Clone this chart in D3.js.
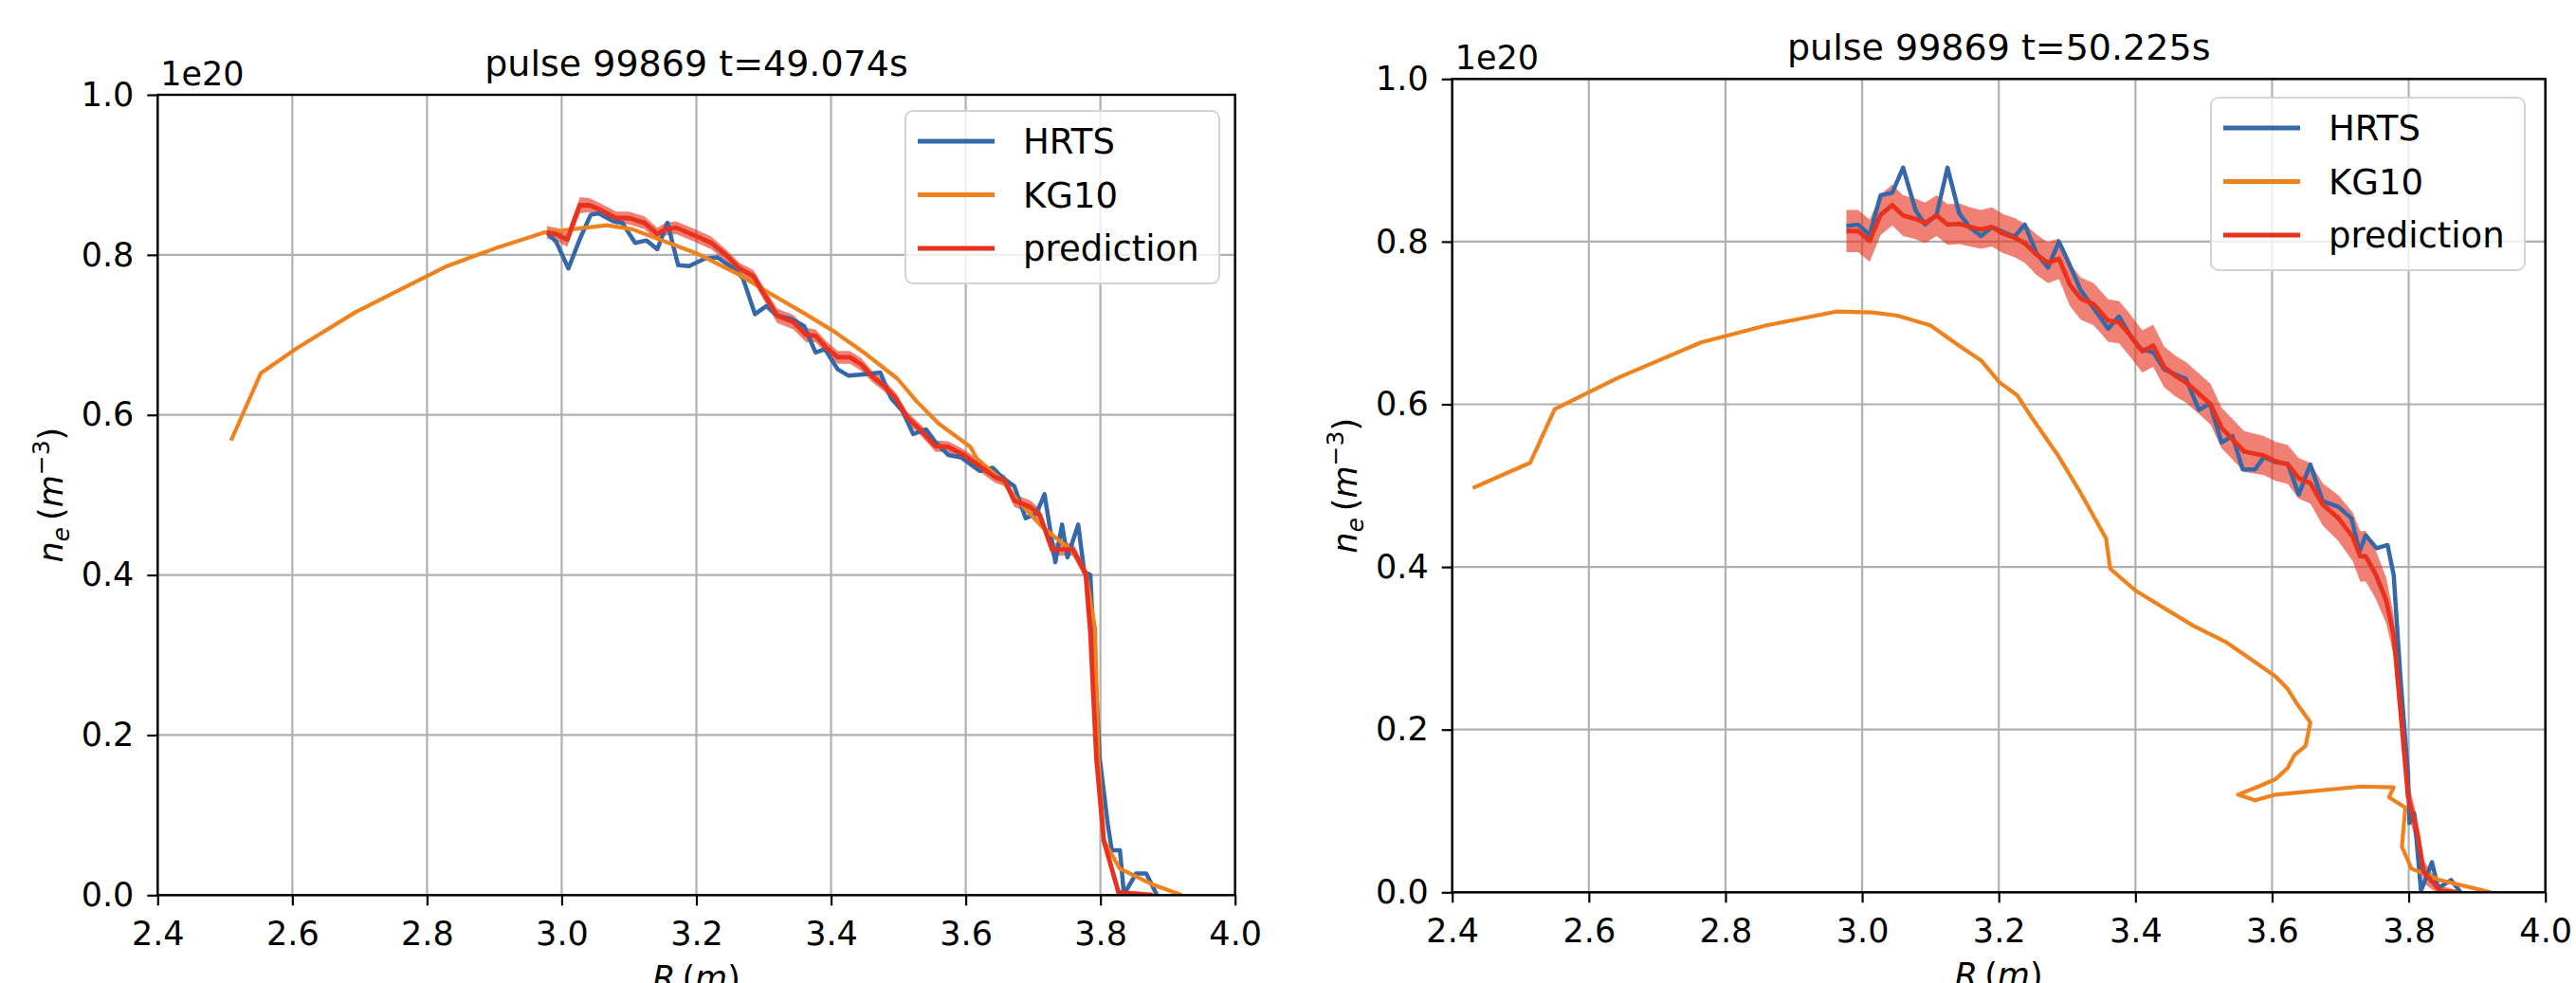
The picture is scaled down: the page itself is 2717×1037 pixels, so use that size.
<!DOCTYPE html>
<html>
<head>
<meta charset="utf-8">
<script src="https://cdn.jsdelivr.net/npm/d3@7"></script>
<style>
body { margin: 0; background: #fff; }
text { font-family: "DejaVu Sans", sans-serif; }
</style>
</head>
<body>
<script>
// tick values (density in units of 1e20 m^-3)
var xTicks = [2.4, 2.6, 2.8, 3.0, 3.2, 3.4, 3.6, 3.8, 4.0];
var yTicks = [0.0, 0.2, 0.4, 0.6, 0.8, 1.0];
var seriesNames = ["HRTS", "KG10", "prediction"];

//****************************** t=49.074s *************************************
var leftHrtsR = [2.978,2.992,3.010,3.027,3.043,3.055,3.076,3.090,3.109,3.126,3.142,3.157,3.173,3.189,3.212,3.231,3.255,3.269,3.287,3.304,3.320,3.341,3.360,3.377,3.391,3.410,3.426,3.452,3.473,3.489,3.506,3.522,3.541,3.555,3.574,3.593,3.621,3.640,3.654,3.672,3.689,3.705,3.717,3.733,3.743,3.751,3.767,3.776,3.785,3.799,3.811,3.817,3.829,3.835,3.853,3.868,3.884];
var leftHrtsNe = [0.828,0.816,0.783,0.820,0.850,0.852,0.842,0.840,0.815,0.818,0.807,0.840,0.787,0.786,0.795,0.797,0.783,0.771,0.726,0.736,0.724,0.720,0.711,0.678,0.682,0.657,0.649,0.651,0.653,0.621,0.605,0.576,0.582,0.566,0.550,0.547,0.530,0.534,0.522,0.511,0.471,0.477,0.501,0.416,0.463,0.422,0.463,0.404,0.400,0.171,0.088,0.056,0.056,0.001,0.027,0.027,0.000];

var leftKgR = [2.509,2.553,2.608,2.693,2.766,2.827,2.901,2.974,3.067,3.105,3.200,3.264,3.311,3.358,3.405,3.452,3.499,3.527,3.560,3.607,3.616,3.654,3.677,3.715,3.757,3.778,3.792,3.797,3.805,3.829,3.878,3.921];
var leftKgNe = [0.568,0.652,0.684,0.728,0.759,0.785,0.808,0.828,0.837,0.832,0.802,0.775,0.751,0.728,0.704,0.676,0.645,0.617,0.589,0.560,0.546,0.518,0.493,0.459,0.431,0.404,0.333,0.171,0.068,0.033,0.013,0.000];

var leftPredR = [2.978,2.992,3.008,3.027,3.041,3.058,3.081,3.100,3.123,3.142,3.154,3.170,3.198,3.222,3.245,3.264,3.285,3.302,3.320,3.344,3.363,3.377,3.393,3.410,3.428,3.445,3.461,3.478,3.496,3.513,3.532,3.555,3.574,3.597,3.621,3.644,3.658,3.672,3.696,3.710,3.728,3.740,3.759,3.778,3.785,3.794,3.805,3.827,3.878];
var leftPredNe = [0.828,0.826,0.819,0.862,0.862,0.856,0.846,0.846,0.840,0.826,0.832,0.834,0.824,0.815,0.799,0.783,0.773,0.749,0.724,0.716,0.700,0.699,0.684,0.672,0.672,0.663,0.648,0.637,0.621,0.597,0.582,0.561,0.560,0.550,0.536,0.522,0.518,0.493,0.485,0.475,0.432,0.432,0.432,0.402,0.329,0.171,0.068,0.003,0.000];
var leftPredErr = [0.008,0.008,0.009,0.010,0.009,0.008,0.008,0.008,0.008,0.008,0.008,0.008,0.008,0.008,0.007,0.007,0.008,0.008,0.009,0.009,0.009,0.008,0.008,0.008,0.008,0.008,0.007,0.007,0.007,0.007,0.007,0.007,0.007,0.007,0.007,0.007,0.007,0.008,0.008,0.008,0.008,0.008,0.008,0.008,0.008,0.008,0.008,0.004,0.003];

//****************************** t=50.225s *************************************
var rightHrtsR = [2.977,2.994,3.011,3.027,3.044,3.060,3.078,3.092,3.109,3.125,3.142,3.158,3.174,3.190,3.206,3.223,3.238,3.255,3.272,3.288,3.304,3.320,3.339,3.360,3.376,3.392,3.408,3.426,3.442,3.458,3.474,3.493,3.509,3.526,3.542,3.557,3.575,3.588,3.605,3.623,3.639,3.656,3.674,3.697,3.716,3.728,3.737,3.753,3.769,3.778,3.788,3.799,3.801,3.808,3.818,3.834,3.843,3.862,3.876];
var rightHrtsNe = [0.819,0.821,0.808,0.857,0.860,0.891,0.839,0.821,0.833,0.891,0.835,0.817,0.807,0.818,0.812,0.806,0.821,0.786,0.768,0.800,0.771,0.740,0.718,0.693,0.708,0.685,0.668,0.664,0.643,0.637,0.631,0.593,0.601,0.553,0.561,0.520,0.520,0.535,0.529,0.527,0.489,0.526,0.481,0.474,0.460,0.419,0.439,0.423,0.427,0.390,0.262,0.145,0.085,0.097,0.002,0.037,0.005,0.015,0.000];

var rightKgR = [2.430,2.514,2.550,2.644,2.764,2.860,2.962,3.015,3.052,3.100,3.142,3.174,3.201,3.227,3.248,3.286,3.317,3.357,3.363,3.400,3.484,3.532,3.604,3.623,3.637,3.656,3.649,3.633,3.623,3.605,3.580,3.550,3.575,3.605,3.730,3.778,3.771,3.795,3.790,3.804,3.846,3.920];
var rightKgNe = [0.497,0.528,0.594,0.633,0.676,0.697,0.714,0.713,0.709,0.697,0.672,0.654,0.627,0.611,0.584,0.538,0.495,0.435,0.398,0.371,0.328,0.308,0.266,0.250,0.231,0.209,0.180,0.169,0.153,0.139,0.130,0.120,0.113,0.120,0.130,0.129,0.117,0.104,0.056,0.029,0.015,0.000];

var rightPredR = [2.977,2.994,3.011,3.027,3.044,3.060,3.078,3.092,3.109,3.125,3.142,3.158,3.174,3.190,3.206,3.223,3.238,3.255,3.272,3.288,3.304,3.320,3.339,3.360,3.376,3.392,3.410,3.426,3.442,3.458,3.474,3.493,3.510,3.526,3.542,3.559,3.588,3.605,3.623,3.639,3.656,3.674,3.697,3.718,3.729,3.737,3.751,3.767,3.778,3.788,3.799,3.813,3.822,3.846,3.870];
var rightPredNe = [0.813,0.813,0.801,0.833,0.845,0.832,0.828,0.823,0.832,0.821,0.822,0.818,0.815,0.818,0.810,0.805,0.798,0.784,0.774,0.779,0.747,0.730,0.723,0.703,0.701,0.685,0.665,0.672,0.646,0.635,0.627,0.613,0.600,0.571,0.557,0.542,0.537,0.530,0.526,0.509,0.503,0.477,0.460,0.437,0.413,0.413,0.392,0.359,0.316,0.223,0.118,0.071,0.025,0.002,0.000];
var rightPredErr = [0.026,0.026,0.026,0.025,0.025,0.025,0.025,0.025,0.025,0.025,0.025,0.024,0.024,0.024,0.024,0.024,0.024,0.025,0.025,0.025,0.026,0.026,0.026,0.026,0.026,0.026,0.026,0.026,0.025,0.025,0.025,0.025,0.025,0.025,0.025,0.025,0.024,0.024,0.024,0.025,0.025,0.026,0.028,0.030,0.031,0.031,0.030,0.028,0.025,0.022,0.020,0.018,0.014,0.006,0.003];

var colors = ["#3568a8", "#f0821e", "#e8321e"];

var svg = d3.select("body").append("svg")
    .attr("width", 2717)
    .attr("height", 1037)
    .style("background", "#fff");

//******************************************************************************
//****************************** Panel *****************************************
function drawPanel(p) {
  var x = d3.scaleLinear().domain([2.4, 4.0]).range([p.left, p.right]);
  var y = d3.scaleLinear().domain([0, 1.0]).range([p.bottom, p.top]);
  var g = svg.append("g");

  // grid
  g.selectAll(".vgrid").data(xTicks).enter().append("line")
      .attr("x1", function(d){ return x(d); })
      .attr("x2", function(d){ return x(d); })
      .attr("y1", p.top).attr("y2", p.bottom)
      .style("stroke", "#b0b0b0").style("stroke-width", 2.2);
  g.selectAll(".hgrid").data(yTicks).enter().append("line")
      .attr("x1", p.left).attr("x2", p.right)
      .attr("y1", function(d){ return y(d); })
      .attr("y2", function(d){ return y(d); })
      .style("stroke", "#b0b0b0").style("stroke-width", 2.2);

  svg.append("clipPath").attr("id", "clip" + p.id)
    .append("rect")
      .attr("x", p.left).attr("y", p.top)
      .attr("width", p.right - p.left).attr("height", p.bottom - p.top);
  var plot = g.append("g").attr("clip-path", "url(#clip" + p.id + ")");

  // prediction band
  var idx = d3.range(p.predR.length);
  var band = d3.area()
      .x(function(i){ return x(p.predR[i]); })
      .y0(function(i){ return y(p.predNe[i] - p.predErr[i]); })
      .y1(function(i){ return y(p.predNe[i] + p.predErr[i]); });
  plot.append("path").datum(idx)
      .attr("d", band)
      .style("fill", colors[2]).style("opacity", 0.62);

  function addLine(rs, vs, col, w) {
    var line = d3.line()
        .x(function(i){ return x(rs[i]); })
        .y(function(i){ return y(vs[i]); });
    plot.append("path").datum(d3.range(rs.length))
        .attr("d", line)
        .style("fill", "none").style("stroke", col)
        .style("stroke-width", w).style("stroke-linejoin", "round");
  }
  addLine(p.hrtsR, p.hrtsNe, colors[0], 4.5);
  addLine(p.kgR, p.kgNe, colors[1], 4.2);
  addLine(p.predR, p.predNe, colors[2], 4.8);

  // spines
  g.append("rect")
      .attr("x", p.left).attr("y", p.top)
      .attr("width", p.right - p.left).attr("height", p.bottom - p.top)
      .style("fill", "none").style("stroke", "#000").style("stroke-width", 2.4);

  // axes
  var xAxis = d3.axisBottom(x).tickValues(xTicks).tickFormat(d3.format(".1f"))
      .tickSize(11).tickPadding(17);
  var xg = g.append("g").attr("transform", "translate(0," + p.bottom + ")").call(xAxis);
  var yAxis = d3.axisLeft(y).tickValues(yTicks).tickFormat(d3.format(".1f"))
      .tickSize(11).tickPadding(14);
  var yg = g.append("g").attr("transform", "translate(" + p.left + ",0)").call(yAxis);
  [xg, yg].forEach(function(a){
    a.select(".domain").remove();
    a.selectAll(".tick line").style("stroke", "#000").style("stroke-width", 2.2);
    a.selectAll(".tick text")
        .attr("font-family", "DejaVu Sans").attr("font-size", "35px").style("fill", "#000");
  });

  // title and offset text
  g.append("text")
      .attr("x", (p.left + p.right) / 2).attr("y", p.top - 20)
      .attr("text-anchor", "middle")
      .attr("font-size", "38px")
      .text(p.title);
  g.append("text")
      .attr("x", p.left + 3).attr("y", p.top - 10)
      .attr("font-size", "35px")
      .text("1e20");

  // y label  n_e (m^-3)
  var yl = g.append("text")
      .attr("transform", "translate(" + p.ylabX + "," + ((p.top + p.bottom) / 2) + ") rotate(-90)")
      .attr("text-anchor", "middle")
      .attr("font-size", "35px");
  yl.append("tspan").style("font-style", "italic").text("n");
  yl.append("tspan").style("font-style", "italic").attr("font-size", "25px").attr("dy", 7).text("e");
  yl.append("tspan").attr("dy", -7).text("\u2009(");
  yl.append("tspan").style("font-style", "italic").text("m");
  yl.append("tspan").attr("font-size", "25px").attr("dy", -14).text("\u22123");
  yl.append("tspan").attr("dy", 14).text(")");

  // x label  R (m), cut by the lower edge as in the original figure
  var xl = g.append("text")
      .attr("x", (p.left + p.right) / 2).attr("y", p.bottom + 100)
      .attr("text-anchor", "middle")
      .attr("font-size", "35px");
  xl.append("tspan").style("font-style", "italic").text("R");
  xl.append("tspan").text("\u2009(");
  xl.append("tspan").style("font-style", "italic").text("m");
  xl.append("tspan").text(")");

  // legend
  var lg = g.append("g").attr("transform", "translate(" + p.legX + "," + p.legY + ")");
  lg.append("rect")
      .attr("width", 331).attr("height", 182).attr("rx", 8)
      .style("fill", "#fff").style("fill-opacity", 0.8)
      .style("stroke", "#d4d4d4").style("stroke-width", 2);
  seriesNames.forEach(function(name, i){
    var yy = 32 + i * 56.5;
    lg.append("line")
        .attr("x1", 13).attr("x2", 94).attr("y1", yy).attr("y2", yy)
        .style("stroke", colors[i]).style("stroke-width", 4.8);
    lg.append("text")
        .attr("x", 124).attr("y", yy).attr("dy", "0.36em")
        .attr("font-size", "37px")
        .text(name);
  });
}

drawPanel({
  id: "L", left: 166.3, right: 1302.7, top: 100, bottom: 944.3,
  title: "pulse 99869 t=49.074s", ylabX: 66, legX: 955, legY: 117,
  hrtsR: leftHrtsR, hrtsNe: leftHrtsNe, kgR: leftKgR, kgNe: leftKgNe,
  predR: leftPredR, predNe: leftPredNe, predErr: leftPredErr
});
drawPanel({
  id: "R", left: 1531.7, right: 2684.7, top: 83.3, bottom: 941.3,
  title: "pulse 99869 t=50.225s", ylabX: 1431, legX: 2332, legY: 103,
  hrtsR: rightHrtsR, hrtsNe: rightHrtsNe, kgR: rightKgR, kgNe: rightKgNe,
  predR: rightPredR, predNe: rightPredNe, predErr: rightPredErr
});
</script>
</body>
</html>
